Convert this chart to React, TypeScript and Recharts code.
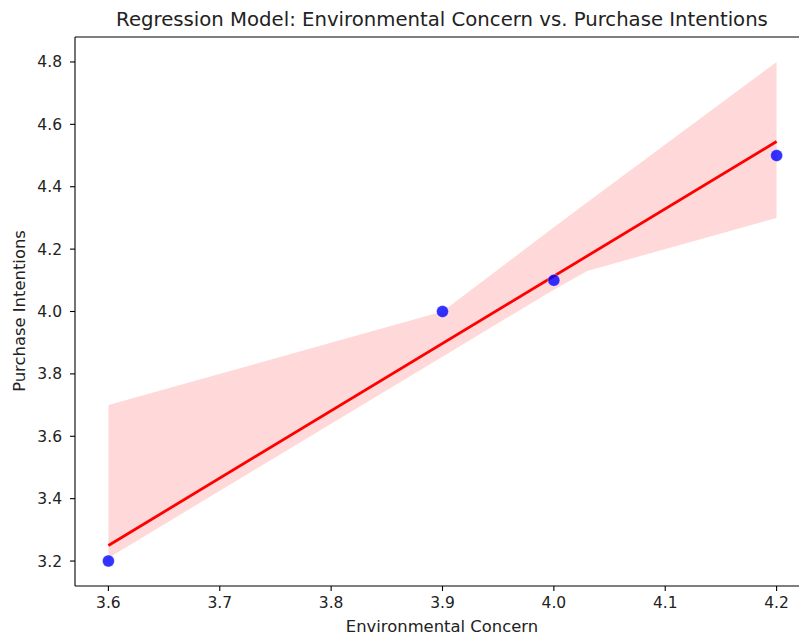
import {
  ComposedChart,
  Area,
  Line,
  Scatter,
  XAxis,
  YAxis,
  ReferenceLine,
} from 'recharts'

// observed points
const obsX = [3.6, 3.9, 4.0, 4.2]
const obsY = [3.2, 4.0, 4.1, 4.5]

// confidence band edges
const bandX = [3.6, 3.9, 4.0, 4.03, 4.2]
const bandLow = [3.21, 3.855, 4.07, 4.13, 4.3]
const bandHigh = [3.7, 4.0, 4.27, 4.35, 4.8]

// fitted line ends
const fitX = [3.6, 4.2]
const fitY = [3.25, 4.545]

const xTicks = [3.6, 3.7, 3.8, 3.9, 4.0, 4.1, 4.2]
const yTicks = [3.2, 3.4, 3.6, 3.8, 4.0, 4.2, 4.4, 4.6, 4.8]

const font = '"DejaVu Sans", sans-serif'

const rows = bandX.map((x, i) => {
  const f = fitX.indexOf(x)
  return { x, band: [bandLow[i], bandHigh[i]], fit: f >= 0 ? fitY[f] : null }
})

const points = obsX.map((x, i) => ({ x, y: obsY[i] }))

const tickStyle = { fontSize: 15.5, fill: '#222', fontFamily: font }

function Dot(props: any) {
  const { cx, cy } = props
  return <circle cx={cx} cy={cy} r={6} fill="#0000ff" fillOpacity={0.8} stroke="#ffffff" strokeOpacity={0.6} strokeWidth={0.6} />
}

export default function App() {
  return (
    <div style={{ position: 'absolute', left: 0, top: 0, width: 799, height: 635, overflow: 'hidden', background: '#fff' }}>
      <div
        style={{
          position: 'absolute', left: 0, top: 8, width: 884, textAlign: 'center',
          lineHeight: '24px', fontSize: 19.7, fontFamily: font, color: '#222', whiteSpace: 'nowrap',
        }}
      >
        Regression Model: Environmental Concern vs. Purchase Intentions
      </div>
      <div
        style={{
          position: 'absolute', left: 0, top: 617, width: 884, textAlign: 'center',
          lineHeight: '20px', fontSize: 16.4, fontFamily: font, color: '#222',
        }}
      >
        Environmental Concern
      </div>
      <div
        style={{
          position: 'absolute', left: 20, top: 311, width: 300, marginLeft: -150, marginTop: -10,
          textAlign: 'center', lineHeight: '20px', fontSize: 16.4, fontFamily: font, color: '#222',
          transform: 'rotate(-90deg)',
        }}
      >
        Purchase Intentions
      </div>
      <ComposedChart
        width={820}
        height={635}
        data={rows}
        margin={{ top: 37, right: 10, bottom: 0, left: 0 }}
      >
        <XAxis
          dataKey="x"
          type="number"
          domain={[3.57, 4.23]}
          ticks={xTicks}
          allowDataOverflow
          height={49}
          tickSize={5}
          tickMargin={6}
          tickFormatter={(v: number) => v.toFixed(1)}
          tick={tickStyle}
          axisLine={{ stroke: '#000', strokeWidth: 1.1 }}
          tickLine={{ stroke: '#000', strokeWidth: 1.1 }}
        />
        <YAxis
          type="number"
          domain={[3.12, 4.88]}
          ticks={yTicks}
          allowDataOverflow
          width={75}
          tickSize={5}
          tickMargin={8}
          tickFormatter={(v: number) => v.toFixed(1)}
          tick={tickStyle}
          axisLine={{ stroke: '#000', strokeWidth: 1.1 }}
          tickLine={{ stroke: '#000', strokeWidth: 1.1 }}
        />
        <ReferenceLine y={4.88} stroke="#000" strokeWidth={1.1} ifOverflow="extendDomain" />
        <Area
          dataKey="band"
          type="linear"
          stroke="none"
          fill="#ff0000"
          fillOpacity={0.15}
          isAnimationActive={false}
          activeDot={false}
          dot={false}
        />
        <Line
          dataKey="fit"
          type="linear"
          stroke="#ff0000"
          strokeWidth={2.8}
          dot={false}
          activeDot={false}
          connectNulls
          isAnimationActive={false}
        />
        <Scatter data={points} dataKey="y" shape={Dot} isAnimationActive={false} />
      </ComposedChart>
    </div>
  )
}
